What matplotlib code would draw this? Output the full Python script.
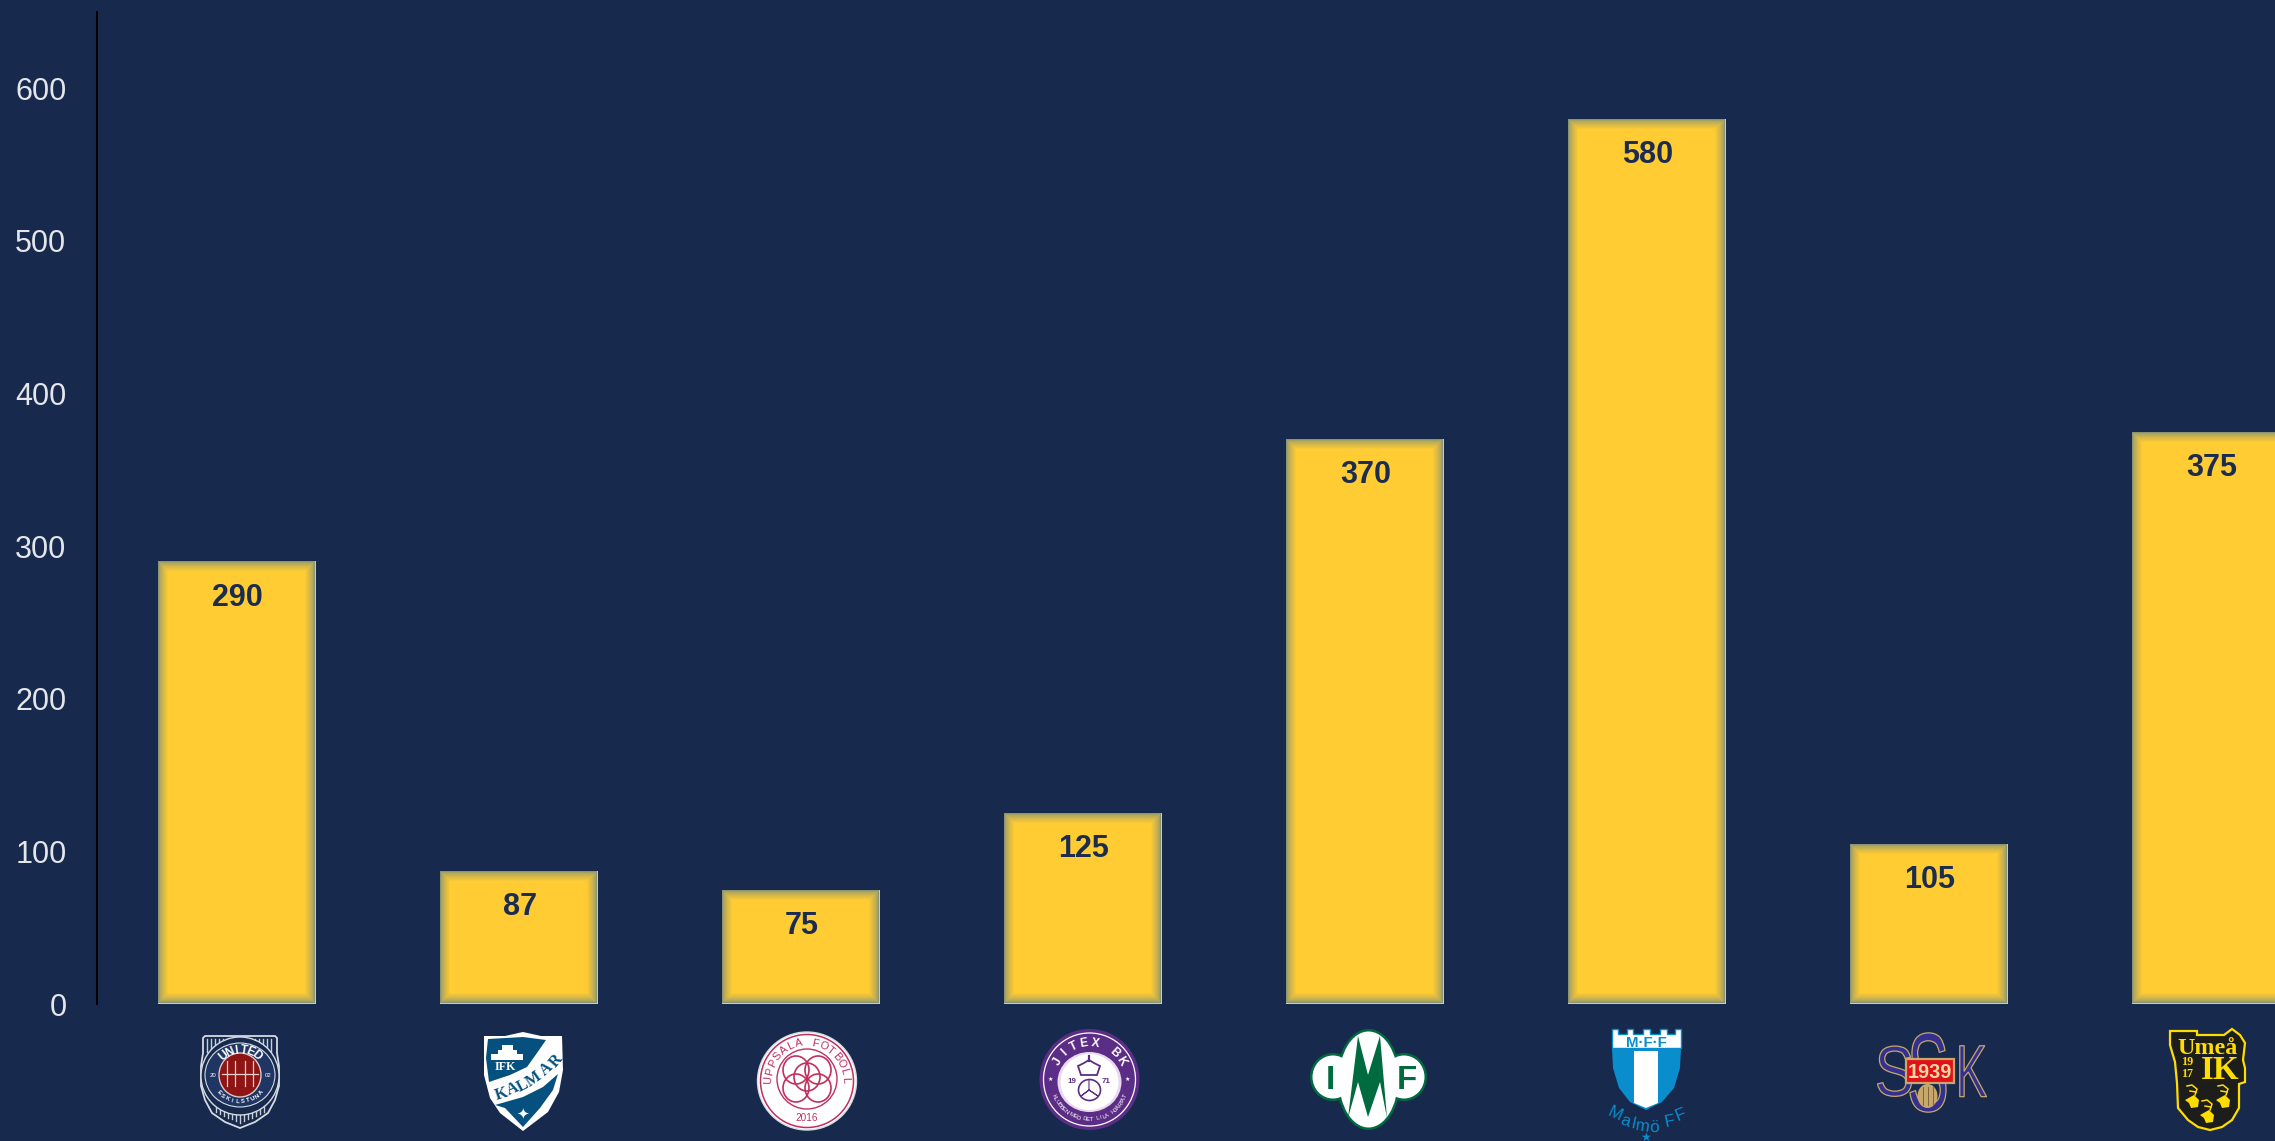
import matplotlib
matplotlib.use("Agg")
import matplotlib.pyplot as plt
import matplotlib.patheffects as pe
from matplotlib.patches import Ellipse, Polygon, Rectangle
from matplotlib.transforms import Affine2D
import numpy as np

# Data
clubs = ["AFC Eskilstuna", "IFK Kalmar", "Uppsala", "Jitex", "IMF", "Malmö FF", "SSK", "Umeå IK"]
values = [290, 87, 75, 125, 370, 580, 105, 375]
y_ticks = [0, 100, 200, 300, 400, 500, 600]

BG = "#172A4D"
GOLD = "#FFCC33"
EDGE = "#8A9470"
FONT = "Liberation Sans"
SERIF = "Liberation Serif"

W, H = 2275, 1141
plt.rcParams["font.family"] = [FONT, "DejaVu Sans"]
fig = plt.figure(figsize=(W / 100, H / 100), dpi=100, facecolor=BG)

# Main axes, placed so one category is 282 px and 100 units are about 153 px
ax = fig.add_axes([97 / W, (H - 1004) / H, (W - 97) / W, 992 / H], facecolor=BG)
ax.set_xlim(-0.496, 7.227)
ax.set_ylim(0, 650)
px_x = 7.723 / (W - 97)
px_y = 650 / 992

bar_w = 0.559
x = np.arange(len(values))
ax.bar(x, values, width=bar_w, color=GOLD, linewidth=0, zorder=2)

# soft inner shadow round each bar
gold_rgb = np.array(matplotlib.colors.to_rgb(GOLD))
edge_rgb = np.array(matplotlib.colors.to_rgb(EDGE))
steps = 10
for k in range(steps):
    mix = k / steps
    col = edge_rgb + (gold_rgb - edge_rgb) * mix ** 0.65
    for xi, v in zip(x, values):
        left = xi - bar_w / 2 + k * px_x
        right = xi + bar_w / 2 - (k + 1) * px_x
        bot = (k + 1.5) * px_y
        top = v - k * px_y
        ax.add_patch(Rectangle((left, bot), right - left, top - bot, fc=col, lw=0, zorder=3 + k))
for xi, v in zip(x, values):
    left = xi - bar_w / 2 + steps * px_x
    right = xi + bar_w / 2 - (steps + 1) * px_x
    ax.add_patch(Rectangle((left, (steps + 1.5) * px_y), right - left, v - (2 * steps + 1.5) * px_y,
                           fc=GOLD, lw=0, zorder=20))
    ax.annotate(str(v), (xi, v), xytext=(0.7, -26), textcoords="offset points", ha="center", va="center",
                fontsize=22, fontweight="bold", color="#1B2C4F", zorder=30)

ax.set_yticks(y_ticks)
ax.set_xticks([])
ax.tick_params(axis="y", length=0, pad=22, labelsize=22, labelcolor="#E4E6EA")
for side in ["top", "right", "bottom"]:
    ax.spines[side].set_visible(False)
ax.spines["left"].set_color("black")
ax.spines["left"].set_linewidth(1.5)

# Overlay in pixel coordinates for the club crests
lg = fig.add_axes([0, 0, 1, 1])
lg.set_xlim(0, W)
lg.set_ylim(H, 0)
lg.axis("off")


class Squeeze(pe.AbstractPathEffect):
    # narrows a glyph about a centre line, optionally with an outline
    def __init__(self, xs, cx, edge=None, lw=0):
        super().__init__()
        self.xs, self.cx, self.edge, self.lw = xs, cx, edge, lw

    def draw_path(self, renderer, gc, tpath, affine, rgbFace=None):
        t = affine + Affine2D().translate(-self.cx, 0).scale(self.xs, 1).translate(self.cx, 0)
        gc0 = renderer.new_gc()
        gc0.copy_properties(gc)
        if self.edge:
            gc0.set_foreground(self.edge)
            gc0.set_linewidth(self.lw)
        renderer.draw_path(gc0, tpath, t, rgbFace)
        gc0.restore()


def fs(px):
    return px * 0.72


def label(px, py, s, size, color, weight="normal", family=FONT, rot=0, z=5):
    # px, py is the middle of the capitals
    r = np.radians(rot)
    h = 0.34 * size
    return lg.text(px + np.sin(r) * h, py + np.cos(r) * h, s, fontsize=fs(size), color=color, fontweight=weight,
                   family=family, ha="center", va="baseline", rotation=rot, rotation_mode="anchor", zorder=z)


def arc_text(s, cx, cy, rx, ry, a0, a1, size, color, bottom=False, weight="normal", family=FONT):
    for ch, t in zip(s, np.linspace(a0, a1, len(s))):
        a = np.radians(t)
        rot = 180 - t if bottom else -t
        label(cx + rx * np.sin(a), cy - ry * np.cos(a), ch, size, color, weight=weight, family=family, rot=rot, z=7)


def poly(pts, fc, ec="none", lw=0, z=1):
    lg.add_patch(Polygon(pts, closed=True, fc=fc, ec=ec, lw=lw, zorder=z))


def ell(cx, cy, rx, ry, fc="none", ec="none", lw=0, z=1):
    lg.add_patch(Ellipse((cx, cy), rx * 2, ry * 2, fc=fc, ec=ec, lw=lw, zorder=z))


# United (Eskilstuna)
cx, cy = 240, 1075
LINE = "#D5DAE3"
shield = [(203, 1038), (205, 1036), (275, 1036), (277, 1038), (277, 1053), (279, 1066), (279, 1086), (275, 1100),
          (268, 1113), (255, 1122), (240, 1128), (225, 1122), (212, 1113), (205, 1100), (201, 1086), (201, 1066),
          (203, 1053)]
poly(shield, BG, ec=LINE, lw=1.3, z=1)
for sx in np.arange(207, 275, 4):
    lg.plot([sx, sx], [1039, 1052], color="#C9CFDA", lw=1.0, zorder=2)
for sx in np.arange(216, 266, 4):
    lg.plot([sx, sx], [1104, 1123 - abs(sx - 240) * 0.45], color="#C9CFDA", lw=1.0, zorder=2)
ell(cx, cy + 1, 39, 39, fc=BG, ec=LINE, lw=1.0, z=3)
ell(cx, cy, 35, 32, fc="#1F3564", ec=LINE, lw=0.8, z=4)
ell(cx, cy, 21, 22, fc="#8F1414", ec="#D9C9C9", lw=1.0, z=5)
for dx in [-13, -5, 5, 13]:
    lg.plot([cx + dx, cx + dx], [cy - 14, cy + 11], color="#E7CFCF", lw=0.9, zorder=6)
lg.plot([cx - 18, cx + 18], [cy - 1, cy - 1], color="#E7CFCF", lw=0.9, zorder=6)
arc_text("UNITED", cx, cy, 27, 26, -40, 40, 12, "white", weight="bold")
arc_text("ESKILSTUNA", cx, cy, 28, 26, 228, 132, 6, "white", bottom=True, weight="bold")
label(213, 1075, "20", 6, "white")
label(268, 1075, "02", 6, "white")

# IFK Kalmar
KBLUE = "#05507F"
poly([(484, 1036), (505, 1036), (523, 1032), (541, 1036), (562, 1036), (563, 1070), (559, 1092), (548, 1112),
      (523, 1131), (500, 1113), (490, 1098), (484, 1075)], "white", z=1)
poly([(488, 1039), (506, 1038), (523, 1037), (546, 1040), (537, 1053), (527, 1067), (510, 1075), (489, 1082),
      (486, 1058)], KBLUE, z=2)
poly([(558, 1074), (553, 1090), (540, 1108), (523, 1127), (505, 1108), (495, 1105), (523, 1097), (543, 1087)],
     KBLUE, z=2)
for ch, lx, ly, rot in zip("KALMAR", [501, 512, 522, 533, 545, 555], [1093, 1088, 1085, 1078, 1068, 1060],
                           [18, 22, 28, 35, 42, 50]):
    label(lx, ly, ch, 16, KBLUE, weight="bold", family=SERIF, rot=rot, z=4)
label(505, 1066, "IFK", 12, "white", family=SERIF, weight="bold")
poly([(491, 1060), (491, 1054), (498, 1054), (498, 1050), (502, 1050), (502, 1045), (513, 1045), (513, 1050),
      (517, 1050), (517, 1054), (523, 1054), (523, 1060)], "white", z=3)
label(523, 1113, "✦", 15, "white", family="DejaVu Sans")

# Uppsala Fotboll
PINK = "#C22F5E"
ell(807, 1081, 49.5, 49, fc="white", ec="#D9DDE3", lw=1, z=1)
ell(807, 1081, 46.5, 46.5, ec=PINK, lw=1.1, z=2)
ell(807, 1079, 30, 30, ec=PINK, lw=1.0, z=2)
for dx, dy in [(-11, -9), (11, -9), (-11, 9), (11, 9), (0, -2)]:
    ell(807 + dx, 1079 + dy, 13, 14, ec=PINK, lw=1.2, z=3)
arc_text("UPPSALA FOTBOLL", 807, 1081, 39, 39, -88, 88, 11, PINK)
label(807, 1118, "2016", 10, PINK)

# Jitex BK
PURPLE = "#5C2D86"
ell(1089.5, 1079.5, 50, 50.5, fc=PURPLE, z=1)
ell(1089.5, 1079.5, 46, 46.5, ec="white", lw=0.9, z=2)
ell(1089.5, 1082, 32, 30, fc="#E9D8EE", z=2)
ell(1089.5, 1082, 29, 28, fc="white", z=2)
arc_text("JITEX BK", 1089.5, 1080, 38, 38, -60, 60, 12, "white", weight="bold")
arc_text("KLUBBEN MED DET LILA HJÄRTAT", 1089.5, 1080, 39, 39, 246, 114, 6, "white", bottom=True)
label(1050, 1079, "★", 6, "white", family="DejaVu Sans")
label(1127, 1079, "★", 6, "white", family="DejaVu Sans")
label(1072, 1080, "19", 8, PURPLE, weight="bold")
label(1106, 1080, "71", 8, PURPLE, weight="bold")
poly([(1081, 1075), (1078, 1066), (1084, 1063), (1089, 1060), (1094, 1063), (1100, 1066), (1097, 1075)], "none",
     ec=PURPLE, lw=1.3, z=3)
lg.plot([1089, 1089], [1056, 1061], color=PURPLE, lw=1.6, zorder=3)
ell(1089.5, 1090, 11, 10.5, fc="white", ec=PURPLE, lw=1.2, z=3)
lg.plot([1089, 1081, 1089, 1098, 1089, 1089], [1090, 1096, 1090, 1096, 1090, 1080], color=PURPLE, lw=0.8, zorder=4)

# IMF
GREEN = "#006B3F"
for ex, ey, erx, ery in [(1368.5, 1079.5, 32, 50.5), (1333, 1077, 23, 24), (1404, 1077, 23, 24)]:
    ell(ex, ey, erx, ery, fc=GREEN, z=1)
for ex, ey, erx, ery in [(1368.5, 1079.5, 29.5, 48), (1333, 1077, 20.5, 21.5), (1404, 1077, 20.5, 21.5)]:
    ell(ex, ey, erx, ery, fc="white", z=2)
poly([(1358, 1036), (1368, 1075), (1380, 1036), (1387, 1118), (1380, 1082), (1368, 1117), (1358, 1082), (1348, 1118)],
     GREEN, z=3)
label(1330.5, 1078, "I", 33, GREEN, weight="bold")
label(1407, 1078, "F", 33, GREEN, weight="bold")

# Malmö FF
BLUE = "#0A8DCC"
poly([(1612, 1029), (1618, 1029), (1618, 1034), (1627, 1034), (1627, 1029), (1633, 1029), (1633, 1034), (1643, 1034),
      (1643, 1029), (1650, 1029), (1650, 1034), (1660, 1034), (1660, 1029), (1667, 1029), (1667, 1034), (1675, 1034),
      (1675, 1029), (1681, 1029), (1681, 1048), (1612, 1048)], "white", ec=BLUE, lw=1, z=2)
poly([(1612, 1048), (1681, 1048), (1680, 1068), (1674, 1088), (1662, 1102), (1646, 1110), (1630, 1102), (1619, 1088),
      (1613, 1068)], BLUE, z=1)
poly([(1634, 1051), (1658, 1051), (1658, 1103), (1646, 1108), (1634, 1103)], "white", z=2)
label(1646, 1042, "M·F·F", 15, BLUE, weight="bold")
for ch, lx, ly, rot in zip("MalmöFF", [1615, 1626, 1634, 1643, 1654, 1669, 1680],
                           [1113, 1120, 1123, 1125, 1126, 1120, 1114], [-25, -18, -12, -8, -2, 12, 22]):
    label(lx, ly, ch, 17, BLUE, rot=rot)
label(1646, 1137, "★", 12, BLUE, family="DejaVu Sans")

# SSK
SSK_FILL = "#33308F"
TAN = "#C8A76A"
for s, lx, ly, size, xs in [("S", 1894.5, 1071.5, 71, 0.83), ("S", 1928, 1073, 112, 0.56), ("K", 1971.5, 1071.5, 74, 0.63)]:
    label(lx, ly, s, size, SSK_FILL, z=2).set_path_effects([Squeeze(xs, lx, TAN, 0.9)])
ell(1927.5, 1096, 10, 12, fc=TAN, z=3)
for dx in [-5, 0, 5]:
    lg.plot([1927.5 + dx, 1927.5 + dx], [1087, 1105], color="#6B5A3A", lw=0.6, zorder=3)
lg.add_patch(Rectangle((1906, 1059), 48, 24, fc="#E2101A", ec=TAN, lw=1.6, zorder=4))
label(1930, 1071, "1939", 20, "#F1D9A0", weight="bold")

# Umeå IK
YEL = "#FFDD00"
DARK = "#1D1D1B"
umea = [(2170, 1031), (2197, 1031), (2197, 1035), (2224, 1035), (2232, 1029), (2240, 1035), (2245, 1043), (2243, 1060),
        (2245, 1068), (2245, 1082), (2239, 1084), (2239, 1108), (2232, 1120), (2222, 1127), (2210, 1130), (2198, 1127),
        (2188, 1120), (2178, 1108), (2177, 1083), (2175, 1062), (2170, 1045)]
poly(umea, DARK, ec=YEL, lw=1.6, z=1)
label(2208, 1046, "Umeå", 24, YEL, weight="bold", family=SERIF)
label(2188, 1061, "19", 12, YEL, weight="bold", family=SERIF)
label(2188, 1073, "17", 12, YEL, weight="bold", family=SERIF)
label(2220, 1068, "IK", 33, YEL, weight="bold", family=SERIF)
for dx, dy in [(2192, 1098), (2223, 1098), (2207, 1113)]:
    poly([(dx - 7, dy + 2), (dx + 2, dy - 3), (dx + 7, dy + 2), (dx + 6, dy + 9), (dx - 1, dy + 10), (dx - 3, dy + 5)],
         YEL, z=3)
    lg.plot([dx + 3, dx + 5, dx, dx - 5], [dy - 3, dy - 9, dy - 13, dy - 12], color=YEL, lw=1.1, zorder=3)
    lg.plot([dx + 4, dx - 2], [dy - 6, dy - 7], color=YEL, lw=1.1, zorder=3)

fig.savefig("out.png", dpi=100, facecolor=BG)
